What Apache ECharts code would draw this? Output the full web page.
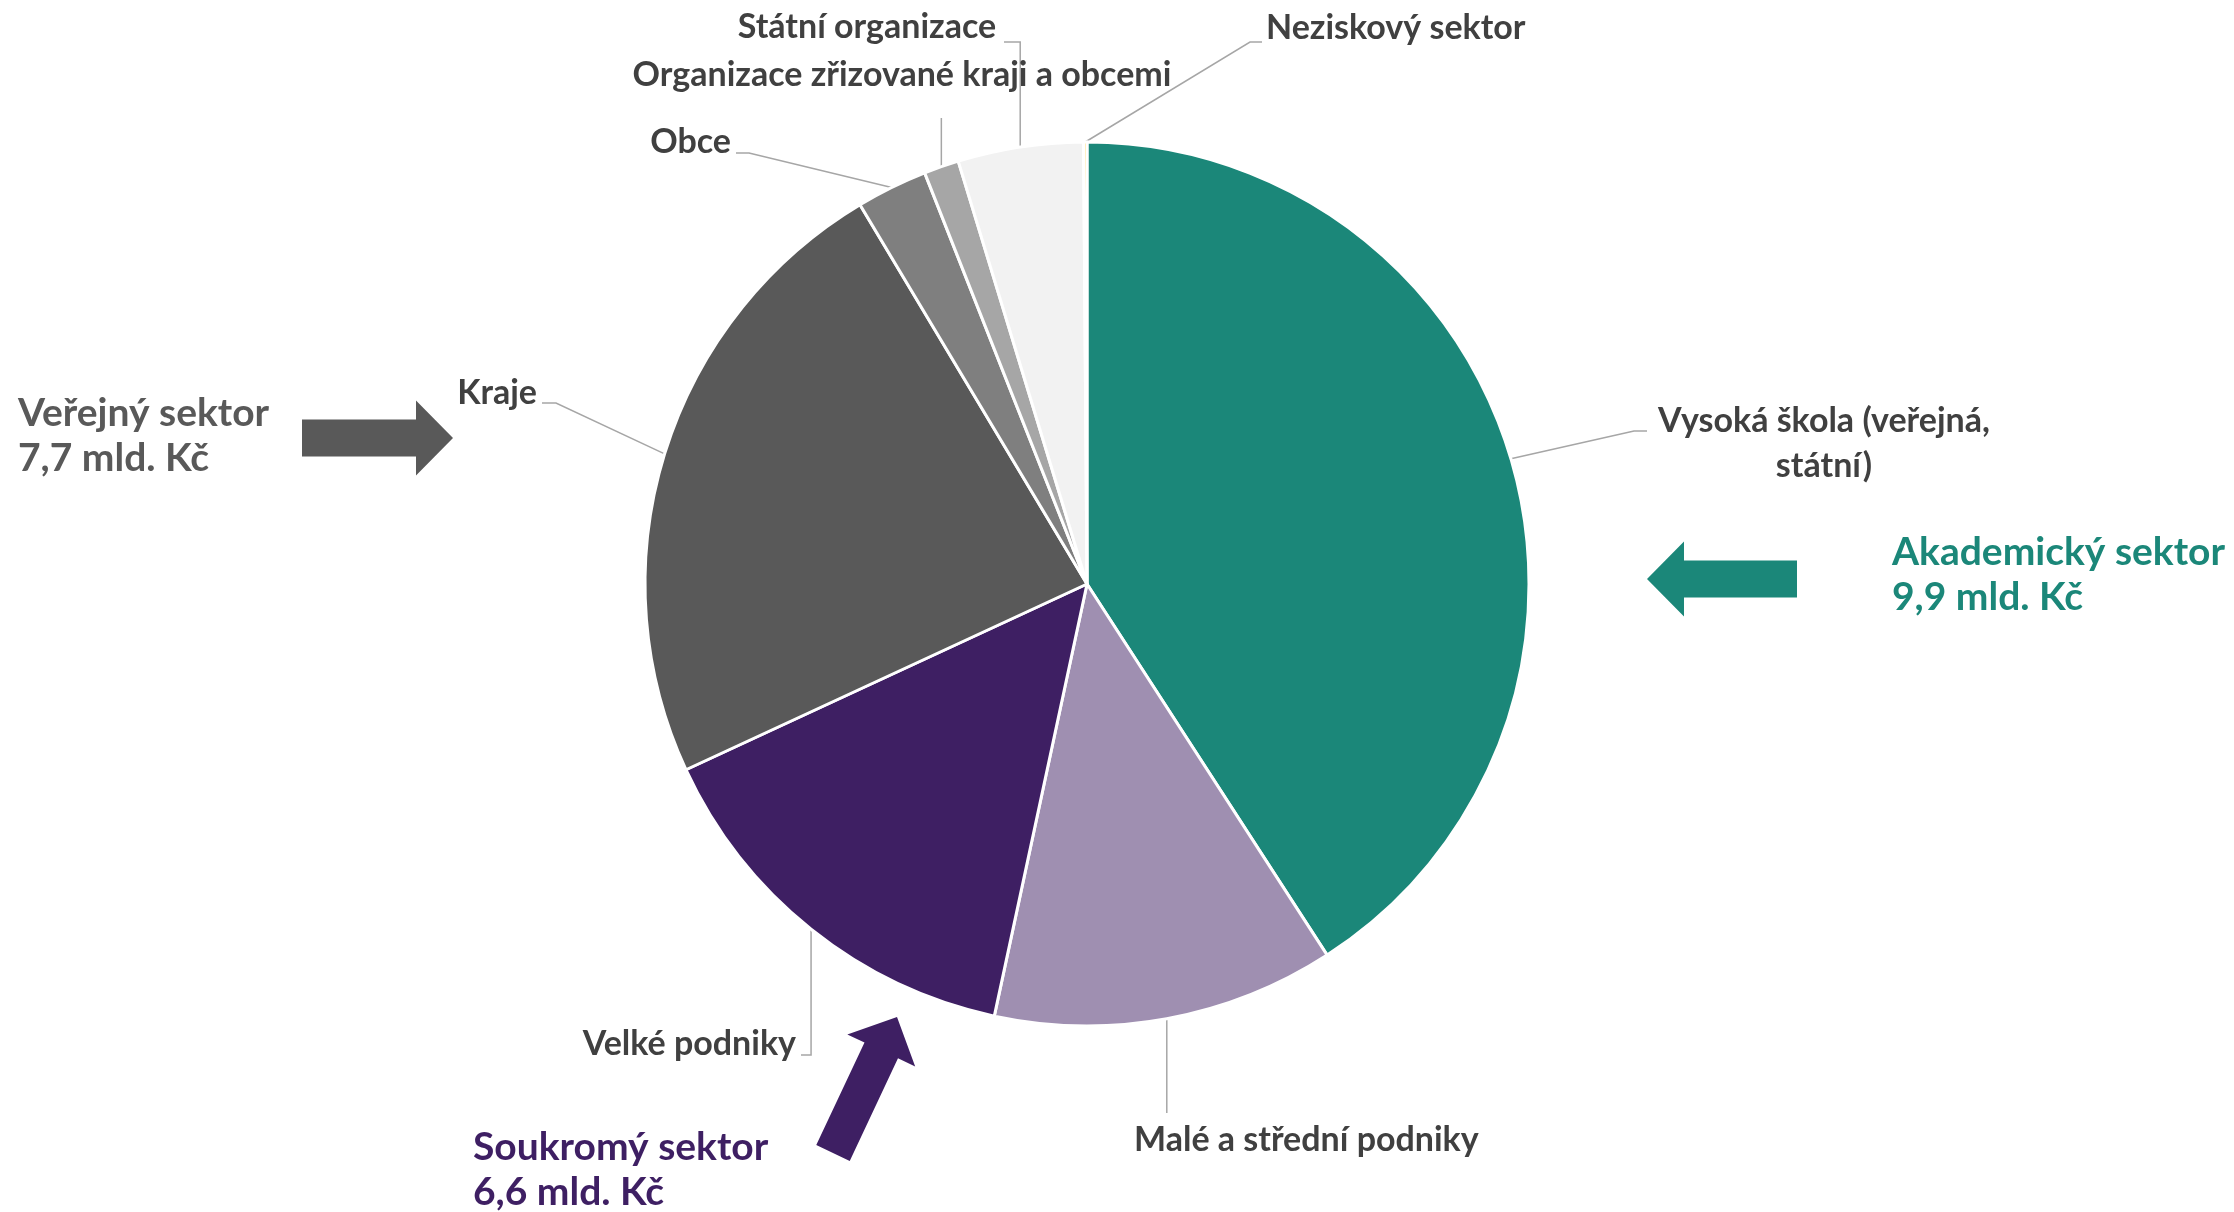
<!DOCTYPE html>
<html>
<head>
<meta charset="utf-8">
<script src="https://cdn.jsdelivr.net/npm/echarts@6/dist/echarts.min.js"></script>
<style>
  html, body { margin: 0; padding: 0; background: #fff; }
  #chart { width: 2234px; height: 1212px; }
</style>
</head>
<body>
<div id="chart"></div>
<script>
// výdaje podle typu příjemce (mld. Kč), po směru hodinových ručiček od 12 h
const categories = [
  'Vysoká škola (veřejná,\nstátní)',
  'Malé a střední podniky',
  'Velké podniky',
  'Kraje',
  'Obce',
  'Organizace zřizované kraji a obcemi',
  'Státní organizace',
  'Neziskový sektor'
]
const values = [9.9, 3.03, 3.57, 5.65, 0.63, 0.31, 1.11, 0.03]
const sliceColors = ['#1b8779', '#9f8fb1', '#3e1f63', '#595959', '#7f7f7f', '#a6a6a6', '#f2f2f2', '#ffd966']

// souhrnné sektory (popisky se šipkou)
const sectorNames = ['Akademický sektor', 'Veřejný sektor', 'Soukromý sektor']
const sectorTotals = ['9,9 mld. Kč', '7,7 mld. Kč', '6,6 mld. Kč']
const sectorColors = ['#1b8779', '#595959', '#3e1f63']

const FONT = 'Lato, "Open Sans", sans-serif'

// umístění popisků a ohyby vodicích čar
const labelPlaces = [
  { x: 1824, y: 444, align: 'center', line: p => [p, [1634, 431], [1647, 431]] },
  { x: 1134, y: 1140, align: 'left', line: p => [p, [p[0], 1113], [p[0], 1113]] },
  { x: 796, y: 1044, align: 'right', line: p => [p, [p[0], 1055], [801, 1055]] },
  { x: 537, y: 393, align: 'right', line: p => [p, [556, 403], [542, 403]] },
  { x: 731, y: 142, align: 'right', line: p => [p, [749, 153], [736, 153]] },
  { x: 902, y: 75, align: 'center', line: p => [p, [p[0], 118], [p[0], 118]] },
  { x: 867, y: 27, align: 'center', line: p => [p, [p[0], 42], [1004, 42]] },
  { x: 1266, y: 28, align: 'left', line: p => [p, [1250, 42], [1262, 42]] }
]

// šipky: [ocas, hrot]
const arrowSpecs = [
  { from: [1797, 579], to: [1647, 579], color: sectorColors[0] },
  { from: [302, 438], to: [453, 438], color: sectorColors[1] },
  { from: [833, 1153], to: [897, 1017], color: sectorColors[2] }
]
const sectorTextPos = [[1892, 575], [18, 436], [473, 1170]]

function arrowPoints(from, to, shaftW, headW, headL) {
  const dx = to[0] - from[0], dy = to[1] - from[1]
  const len = Math.sqrt(dx * dx + dy * dy)
  const ux = dx / len, uy = dy / len
  const px = -uy, py = ux
  const bx = to[0] - ux * headL, by = to[1] - uy * headL
  return [
    [from[0] + px * shaftW / 2, from[1] + py * shaftW / 2],
    [bx + px * shaftW / 2, by + py * shaftW / 2],
    [bx + px * headW / 2, by + py * headW / 2],
    to,
    [bx - px * headW / 2, by - py * headW / 2],
    [bx - px * shaftW / 2, by - py * shaftW / 2],
    [from[0] - px * shaftW / 2, from[1] - py * shaftW / 2]
  ]
}

const graphics = []
arrowSpecs.forEach(a => {
  graphics.push({
    type: 'polygon',
    shape: { points: arrowPoints(a.from, a.to, 37, 75, 37) },
    style: { fill: a.color }
  })
})
sectorNames.forEach((name, i) => {
  graphics.push({
    type: 'text',
    x: sectorTextPos[i][0],
    y: sectorTextPos[i][1],
    style: {
      text: name + '\n' + sectorTotals[i],
      fill: sectorColors[i],
      fontFamily: FONT,
      fontWeight: 'bold',
      fontSize: 39,
      lineHeight: 45,
      verticalAlign: 'middle'
    }
  })
})

const chart = echarts.init(document.getElementById('chart'))
chart.setOption({
  backgroundColor: '#ffffff',
  animation: false,
  graphic: graphics,
  series: [{
    type: 'pie',
    center: [1087, 584],
    radius: 442,
    startAngle: 90,
    clockwise: true,
    avoidLabelOverlap: false,
    data: categories.map((c, i) => ({
      name: c,
      value: values[i],
      itemStyle: { color: sliceColors[i] }
    })),
    itemStyle: { borderColor: '#ffffff', borderWidth: 3 },
    label: {
      show: true,
      position: 'outside',
      formatter: '{b}',
      color: '#404040',
      fontFamily: FONT,
      fontWeight: 'bold',
      fontSize: 34,
      lineHeight: 45
    },
    labelLine: {
      show: true,
      length: 20,
      length2: 10,
      lineStyle: { color: '#a6a6a6', width: 1.5 }
    },
    labelLayout: params => {
      const lp = labelPlaces[params.dataIndex]
      const edge = params.labelLinePoints ? params.labelLinePoints[0] : [0, 0]
      return {
        x: lp.x,
        y: lp.y,
        align: lp.align,
        verticalAlign: 'middle',
        labelLinePoints: lp.line(edge)
      }
    }
  }]
})
</script>
</body>
</html>
